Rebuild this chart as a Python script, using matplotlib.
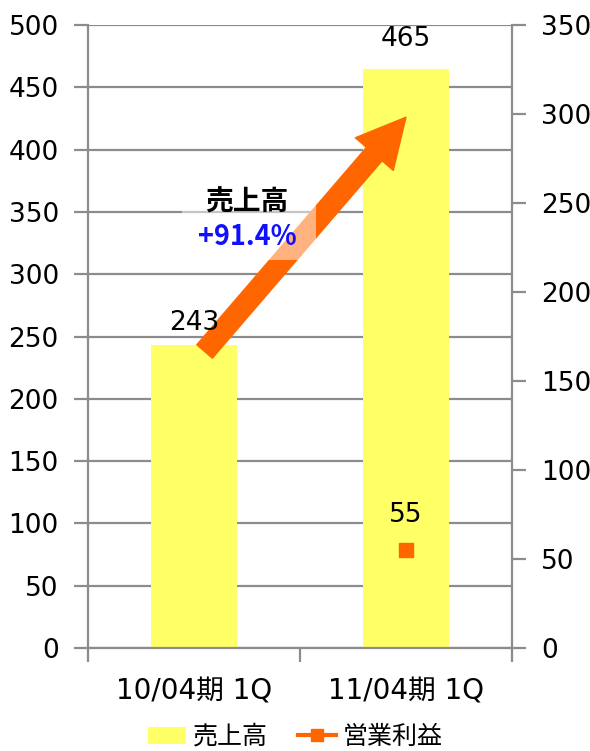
import matplotlib
matplotlib.use("Agg")
import matplotlib.pyplot as plt
from matplotlib.patches import FancyArrowPatch, Rectangle, Patch
from matplotlib.lines import Line2D

plt.rcParams['font.family'] = ['DejaVu Sans', 'Noto Sans CJK JP']

categories = ["10/04期 1Q", "11/04期 1Q"]
sales = [243, 465]            # 売上高 (left axis)
op_profit = [None, 55]        # 営業利益 (right axis)
growth_label = "+91.4%"
left_ticks = list(range(0, 501, 50))
right_ticks = list(range(0, 351, 50))

W, H = 590, 751
fig = plt.figure(figsize=(W / 100, H / 100), dpi=100)
ax = fig.add_axes([88 / W, (H - 648) / H, 424 / W, 623 / H])
ax2 = ax.twinx()

bar_color = "#FFFF66"
orange = "#FF6600"
grid_col = "#8C8C8C"
fs = 19
cjk = ['Noto Sans CJK JP', 'DejaVu Sans']

x = list(range(len(categories)))
ax.bar(x, sales, width=0.405, color=bar_color, zorder=2)
ax.set_xlim(-0.5, 1.5)
ax.set_ylim(0, 500)
ax.set_yticks(left_ticks)
ax.yaxis.grid(True, color=grid_col, linewidth=1.6, zorder=0)
ax.set_axisbelow(True)
ax.set_xticks([-0.5, 0.5, 1.5])
ax.set_xticklabels([])
ax.set_xticks(x, minor=True)
ax.set_xticklabels(categories, minor=True, fontsize=20)
ax.tick_params(axis='x', which='minor', length=0, pad=21)
ax.tick_params(axis='x', which='major', length=10, width=1.6, color=grid_col)
ax.tick_params(axis='y', length=10, width=1.6, color=grid_col, labelsize=fs, pad=11)

for a in (ax, ax2):
    for s in a.spines.values():
        s.set_visible(False)
ax.spines['left'].set_visible(True)
ax.spines['left'].set_color(grid_col)
ax.spines['left'].set_linewidth(1.6)
ax.spines['bottom'].set_visible(True)
ax.spines['bottom'].set_color(grid_col)
ax.spines['bottom'].set_linewidth(1.6)
ax2.spines['right'].set_visible(True)
ax2.spines['right'].set_color(grid_col)
ax2.spines['right'].set_linewidth(1.6)

ax2.set_ylim(0, 350)
ax2.set_yticks(right_ticks)
ax2.tick_params(axis='y', length=10, width=1.6, color=grid_col, labelsize=fs, pad=11)

# operating profit marker
px = [i for i, v in enumerate(op_profit) if v is not None]
py = [v for v in op_profit if v is not None]
ax2.plot(px, py, linestyle='none', marker='s', markersize=9.5, color=orange, zorder=5)

# value labels
for i, v in enumerate(sales):
    ax.annotate(str(v), (i, v), xytext=(0, 16 if i == 0 else 21), textcoords='offset points',
                ha='center', va='center', fontsize=fs, zorder=6)
for i, v in zip(px, py):
    ax2.annotate(str(v), (i, v), xytext=(0, 25), textcoords='offset points',
                 ha='center', va='center', fontsize=fs, zorder=6)

# growth arrow
arrow = FancyArrowPatch((0.05, sales[0] - 5), (1.0, 426),
                        arrowstyle="simple,head_length=35,head_width=36,tail_width=14.8",
                        mutation_scale=1, shrinkA=0, shrinkB=0,
                        color=orange, zorder=4, transform=ax.transData)
ax.add_patch(arrow)

# translucent label box
box = Rectangle((0.222, 0.623), 0.316, 0.124, transform=ax.transAxes,
                facecolor='white', alpha=0.5, edgecolor='none', zorder=7)
ax.add_patch(box)
ax.text(0.375, (648 - 203) / 623, "売上高", transform=ax.transAxes, ha='center', va='center',
        fontsize=20, fontweight='bold', family=cjk, zorder=8)
ax.text(0.375, (648 - 237) / 623, growth_label, transform=ax.transAxes, ha='center', va='center',
        fontsize=19.5, fontweight='bold', color='#1010FF', family=cjk, zorder=8)

handles = [Patch(facecolor=bar_color, edgecolor='none'),
           Line2D([0], [0], color=orange, linewidth=3, marker='s', markersize=9)]
fig.legend(handles, ["売上高", "営業利益"], loc='center', bbox_to_anchor=(0.5, 14 / H),
           ncol=2, frameon=False, prop={'family': cjk, 'size': 18},
           handlelength=1.55, handleheight=0.7,
           columnspacing=1.2, handletextpad=0.25)

fig.savefig("out.png", dpi=100)
